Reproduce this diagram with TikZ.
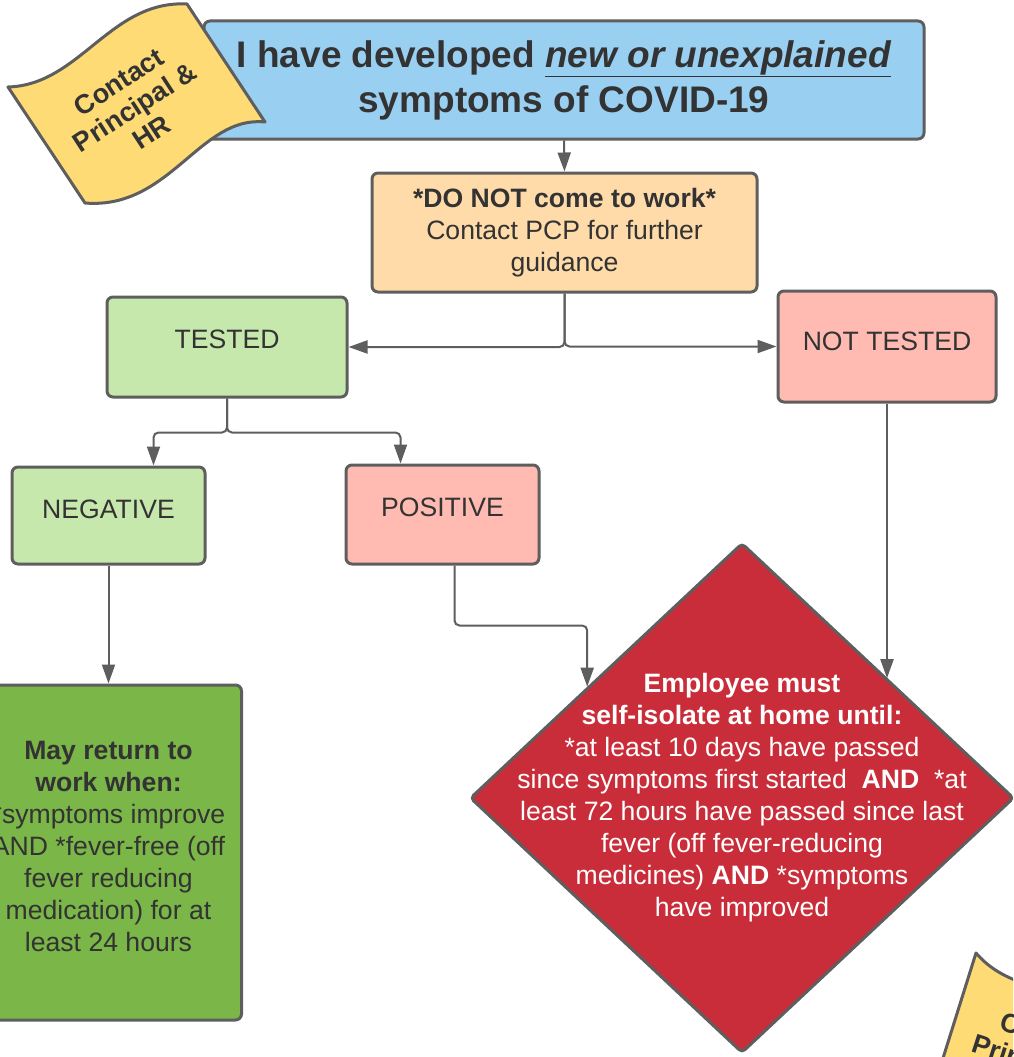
\documentclass[tikz,border=0pt]{standalone}
\usepackage{fontspec}
\setmainfont{Liberation Sans}
\usetikzlibrary{shapes.geometric, arrows.meta, calc}

\definecolor{edgegray}{RGB}{94,94,94}
\definecolor{inkgray}{RGB}{51,51,51}
\definecolor{hdrblue}{RGB}{153,208,242}
\definecolor{flagyel}{RGB}{255,219,118}
\definecolor{peach}{RGB}{255,219,169}
\definecolor{palegreen}{RGB}{199,232,172}
\definecolor{salmon}{RGB}{255,187,177}
\definecolor{leafgreen}{RGB}{122,182,72}
\definecolor{alertred}{RGB}{201,45,57}

\newcommand{\bodyfont}{\fontsize{26.6}{32}\selectfont}

\tikzstyle{box} = [rectangle, draw=edgegray, line width=3pt, rounded corners=6pt, text=inkgray, align=center, inner sep=0pt, font=\bodyfont]
\tikzstyle{boxh} = [box, fill=hdrblue, minimum width=720pt, minimum height=118pt, font=\fontsize{37}{45}\selectfont\bfseries]
\tikzstyle{boxo} = [box, fill=peach, minimum width=385pt, minimum height=119pt]
\tikzstyle{boxg} = [box, fill=palegreen]
\tikzstyle{boxr} = [box, fill=salmon]
\tikzstyle{boxdg} = [box, fill=leafgreen, minimum width=266pt, minimum height=335pt]
\tikzstyle{isobox} = [diamond, draw=edgegray, line width=3pt, rounded corners=4pt, fill=alertred, minimum width=544pt, minimum height=510pt, inner sep=0pt]
\tikzstyle{isotext} = [text=white, align=center, font=\bodyfont]
\tikzstyle{flag} = [draw=edgegray, line width=3pt, fill=flagyel, line join=round]
\tikzstyle{flagtext} = [text=inkgray, align=center, font=\fontsize{27}{30}\selectfont\bfseries, rotate=33]
\tikzstyle{line} = [draw=edgegray, line width=2pt, rounded corners=5pt, -{Triangle[length=19pt,width=13pt]}]

\begin{document}
\begin{tikzpicture}[x=1pt, y=-1pt]
\useasboundingbox (0,0) rectangle (1013,1057);
\clip (0,0) rectangle (1013,1057);

\node [boxh] (hdr) at (564,80) {I have developed \underline{\textit{new or unexplained}}\\ symptoms of COVID-19};

% the two call-HR flags
\foreach \fx/\fy/\fr/\fn in {8/87/0/callA, 976/953/-51/callB}{
  \begin{scope}[shift={(\fx,\fy)}, rotate=\fr, transform shape]
    \path [flag] (0,0) .. controls (72,-2) and (102,-87) .. (179,-83) -- (257,35) .. controls (192,28) and (162,123) .. (77,116) -- cycle;
    \node [flagtext] (\fn) at (127,20) {Contact\\Principal \&\\HR};
  \end{scope}
}

\node [boxo] (stay) at (564.5,232.5) {\textbf{*DO NOT come to work*}\\ Contact PCP for further\\ guidance};
\node [boxg, minimum width=240pt, minimum height=100pt, text depth=16pt] (tested) at (227,347) {TESTED};
\node [boxr, minimum width=218pt, minimum height=111pt, text depth=11pt] (nottested) at (887,346.5) {NOT TESTED};
\node [boxg, minimum width=193pt, minimum height=97pt, text depth=13pt] (neg) at (108.5,515.5) {NEGATIVE};
\node [boxr, minimum width=193pt, minimum height=99pt, text depth=15pt] (pos) at (442.5,514.5) {POSITIVE};
\node [boxdg] (back) at (108.5,852.5) {};
\node [box, draw=none, fill=none] (backtxt) at ([yshift=6pt]back.center) {\textbf{May return to}\\ \textbf{work when:}\\ *symptoms improve\\ AND *fever-free (off\\ fever reducing\\ medication) for at\\ least 24 hours};
\node [isobox] (iso) at (742,798) {};
\node [isotext] (isotxt) at (iso.center) {\textbf{Employee must}\\ \textbf{self-isolate at home until:}\\ *at least 10 days have passed\\ since symptoms first started\ \ \textbf{AND}\ \ *at\\ least 72 hours have passed since last\\ fever (off fever-reducing\\ medicines) \textbf{AND} *symptoms\\ have improved};

\coordinate (isoL) at ($(iso.north)!0.566!(iso.west)$);
\coordinate (isoR) at ($(iso.north)!0.533!(iso.east)$);

\path [line] (hdr.south) -- (stay.north);
\path [line] (stay.south) |- (tested.east);
\path [line] (stay.south) |- (nottested.west);
\path [line] (tested.south) -- ++(0,34) -| ([xshift=45pt]neg.north);
\path [line] (tested.south) -- ++(0,34) -| ([xshift=-42pt]pos.north);
\path [line] (neg.south) -- (back.north);
\path [line] ([xshift=12pt]pos.south) -- ++(0,60) -| (isoL);
\path [line] (nottested.south) -- (nottested.south |- isoR);

\end{tikzpicture}
\end{document}
